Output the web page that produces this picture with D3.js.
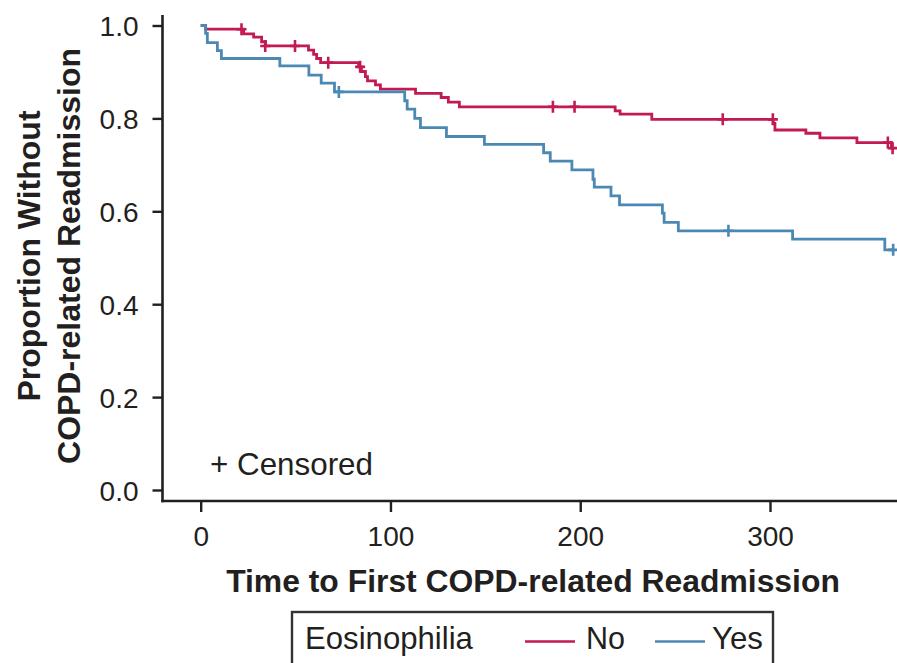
<!DOCTYPE html>
<html>
<head>
<meta charset="utf-8">
<script src="https://cdn.jsdelivr.net/npm/d3@7"></script>
<style>
  html, body { margin: 0; padding: 0; background: #ffffff; }
  svg { display: block; }
  text { font-family: "Liberation Sans", Arial, Helvetica, sans-serif; fill: #231f20; }
</style>
</head>
<body>
<svg id="chart" width="897" height="663"></svg>
<script>
// ---- Data ----
const noTime  = [0, 2.6, 22.6, 27.9, 32.1, 34.2, 56.8, 59.5, 61.1, 63.2, 83.2, 84.7, 86.8, 87.9, 92.1, 94.7, 113.2, 126.7, 130.5, 136.3, 218.4, 221.0, 237.7, 301.7, 302.6, 318.9, 326.3, 345.8, 364.0, 365.5];
const noSurv  = [1, 0.992, 0.982, 0.975, 0.965, 0.956, 0.947, 0.938, 0.929, 0.920, 0.911, 0.901, 0.890, 0.881, 0.872, 0.863, 0.854, 0.845, 0.835, 0.825, 0.816, 0.809, 0.798, 0.789, 0.775, 0.768, 0.758, 0.748, 0.736, 0.736];
const noCensTime = [21.5, 34.0, 49.7, 67.2, 84.0, 185.6, 197.0, 275.1, 301.5, 362.1, 364.6];
const noCensSurv = [0.992, 0.956, 0.956, 0.920, 0.911, 0.825, 0.825, 0.798, 0.798, 0.748, 0.736];

const yesTime = [0, 2.6, 3.5, 8.8, 10.9, 41.7, 57.0, 63.5, 70.5, 107.5, 108.8, 112.8, 115.8, 129.5, 149.5, 180.7, 184.2, 195.6, 206.7, 207.4, 216.2, 220.7, 243.3, 244.2, 251.7, 311.9, 360.5, 365.5];
const yesSurv = [1, 0.983, 0.963, 0.946, 0.929, 0.913, 0.893, 0.876, 0.857, 0.838, 0.820, 0.800, 0.780, 0.761, 0.744, 0.726, 0.708, 0.689, 0.669, 0.652, 0.633, 0.614, 0.596, 0.576, 0.558, 0.540, 0.517, 0.517];
const yesCensTime = [72.8, 278.1, 364.9];
const yesCensSurv = [0.857, 0.558, 0.517];

const xTicks = [0, 100, 200, 300];
const yTicks = [0, 0.2, 0.4, 0.6, 0.8, 1.0];
const groups = ["No", "Yes"];
const legendTitle = "Eosinophilia";
const xTitle = "Time to First COPD-related Readmission";
const yTitle = ["Proportion Without", "COPD-related Readmission"];
const censorLabel = "+ Censored";
const colors = { No: "#c21a52", Yes: "#4b88b3" };

// ---- Layout ----
const svg = d3.select("#chart");
const x = d3.scaleLinear().domain([0, 300]).range([200.7, 770]);
const y = d3.scaleLinear().domain([0, 1]).range([490, 25.5]);
const axisColor = "#231f20";
const plotLeft = 162.5, plotBottom = 501, plotTop = 15, plotRight = 897;

function fitText(sel, target) {
  const node = sel.node();
  const fs = parseFloat(sel.attr("font-size"));
  const len = node.getComputedTextLength();
  if (len > 0) sel.attr("font-size", (fs * target / len).toFixed(2));
  return sel;
}

// Axis lines (L-shaped frame)
svg.append("line").attr("x1", plotLeft).attr("x2", plotLeft).attr("y1", plotTop).attr("y2", plotBottom + 1.2)
  .attr("stroke", axisColor).attr("stroke-width", 2.6);
svg.append("line").attr("x1", plotLeft - 1.2).attr("x2", plotRight).attr("y1", plotBottom).attr("y2", plotBottom)
  .attr("stroke", axisColor).attr("stroke-width", 2.6);

// Y axis
const yAxis = d3.axisLeft(y).tickValues(yTicks).tickFormat(d3.format(".1f")).tickSize(10).tickPadding(14);
const gy = svg.append("g").attr("transform", `translate(${plotLeft},0)`).call(yAxis);
gy.select(".domain").remove();
gy.selectAll(".tick line").attr("stroke", axisColor).attr("stroke-width", 2.4);
gy.selectAll(".tick text").attr("font-size", 28).attr("font-family", null).attr("fill", "#231f20").attr("dy", "0.36em");

// X axis
const xAxis = d3.axisBottom(x).tickValues(xTicks).tickFormat(d3.format("d")).tickSize(11).tickPadding(14);
const gx = svg.append("g").attr("transform", `translate(0,${plotBottom})`).call(xAxis);
gx.select(".domain").remove();
gx.selectAll(".tick line").attr("stroke", axisColor).attr("stroke-width", 2.4);
gx.selectAll(".tick text").attr("font-size", 28).attr("font-family", null).attr("fill", "#231f20");

// Axis titles
const xt = svg.append("text").attr("x", 533).attr("y", 592).attr("text-anchor", "middle")
  .attr("font-size", 30).attr("font-weight", "bold").text(xTitle);
fitText(xt, 614);

const yt1 = svg.append("text").attr("transform", "translate(40,256) rotate(-90)").attr("text-anchor", "middle")
  .attr("font-size", 30).attr("font-weight", "bold").text(yTitle[0]);
const yt2 = svg.append("text").attr("transform", "translate(80,256) rotate(-90)").attr("text-anchor", "middle")
  .attr("font-size", 30).attr("font-weight", "bold").text(yTitle[1]);
fitText(yt2, 416);
yt1.attr("font-size", yt2.attr("font-size"));

// Curves
const line = d3.line().x((d) => x(d[0])).y((d) => y(d[1])).curve(d3.curveStepAfter);
const series = [
  { key: "No", time: noTime, surv: noSurv, ct: noCensTime, cs: noCensSurv },
  { key: "Yes", time: yesTime, surv: yesSurv, ct: yesCensTime, cs: yesCensSurv }
];
series.forEach((s) => {
  const pts = s.time.map((t, i) => [t, s.surv[i]]);
  svg.append("path").datum(pts).attr("d", line).attr("fill", "none")
    .attr("stroke", colors[s.key]).attr("stroke-width", 2.8).attr("stroke-linejoin", "miter");
  const cens = s.ct.map((t, i) => [t, s.cs[i]]);
  svg.append("g").selectAll("path").data(cens).join("path")
    .attr("d", (d) => {
      const cx = x(d[0]), cy = y(d[1]);
      return `M${cx},${cy - 6}V${cy + 6}M${cx - 5},${cy}H${cx + 5}`;
    })
    .attr("fill", "none").attr("stroke", colors[s.key]).attr("stroke-width", 2.6);
});

// Censored note
const cn = svg.append("text").attr("x", 210).attr("y", 475).attr("font-size", 28).text(censorLabel);
fitText(cn, 163);

// Legend
const lg = svg.append("g");
lg.append("rect").attr("x", 292).attr("y", 612).attr("width", 481).attr("height", 80)
  .attr("fill", "none").attr("stroke", "#333333").attr("stroke-width", 2.4);
const lt = lg.append("text").attr("x", 305).attr("y", 649).attr("font-size", 29).text(legendTitle);
fitText(lt, 168);
const legItems = [
  { key: groups[0], x1: 525, x2: 575, tx: 586, w: 39 },
  { key: groups[1], x1: 655, x2: 705, tx: 712, w: 51 }
];
legItems.forEach((it) => {
  lg.append("line").attr("x1", it.x1).attr("x2", it.x2).attr("y1", 641.5).attr("y2", 641.5)
    .attr("stroke", colors[it.key]).attr("stroke-width", 2.6);
  const t = lg.append("text").attr("x", it.tx).attr("y", 649).attr("font-size", 29).text(it.key);
  fitText(t, it.w);
});
</script>
</body>
</html>
